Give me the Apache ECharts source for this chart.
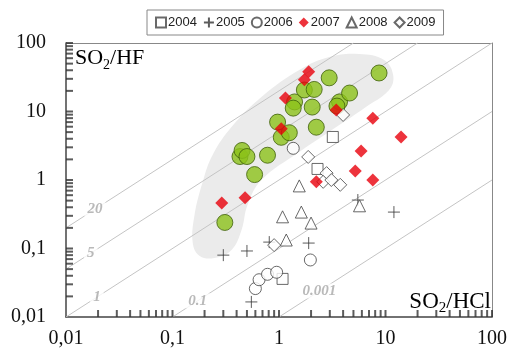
<!DOCTYPE html>
<html><head><meta charset="utf-8">
<script src="https://cdn.jsdelivr.net/npm/echarts@6/dist/echarts.min.js"></script>
<style>html,body{margin:0;padding:0;background:#fff}#c{width:510px;height:360px}</style>
</head><body><div id="c"></div>
<script>
// ---- data ----
const tickValues = [0.01, 0.1, 1, 10, 100];
const xTickLabels = ['0,01', '0,1', '1', '10', '100'];
const yTickLabels = ['0,01', '0,1', '1', '10', '100'];
const legendNames = ['2004', '2005', '2006', '2007', '2008', '2009'];

const greenPoints = [[0.31,0.24],[0.43,2.2],[0.45,2.7],[0.5,2.2],[0.59,1.2],[0.78,2.3],[0.97,7.0],[1.05,4.2],[1.25,4.9],[1.4,13.8],[1.36,11.2],[1.73,20.6],[2.14,21],[2.05,11.6],[2.24,5.9],[2.96,31],[3.7,13.8],[3.5,12],[4.6,18.6],[8.7,36.5]];
const s2004 = [[3.2,4.25],[2.3,1.45],[1.08,0.036]];
const s2005 = [[0.3,0.08],[0.5,0.092],[0.81,0.124],[0.55,0.0166],[1.9,0.12],[5.5,0.51],[12,0.34]];
const s2006 = [[1.36,2.9],[1.97,0.068],[0.6,0.026],[0.65,0.035],[0.78,0.042],[0.95,0.045]];
const s2007 = [[1.9,38],[1.73,29],[1.15,15.7],[3.45,10.5],[7.6,8.0],[1.05,5.6],[14,4.25],[5.9,2.65],[5.2,1.35],[7.6,1.0],[2.24,0.94],[0.29,0.46],[0.48,0.55]];
const s2008 = [[1.55,0.82],[5.7,0.42],[1.08,0.29],[1.62,0.34],[2.0,0.235],[1.17,0.133]];
const s2009 = [[4.0,8.9],[1.88,2.17],[2.8,1.26],[2.6,0.94],[3.1,1.0],[3.76,0.85],[0.9,0.112]];

const ratioValues = [20, 5, 1, 0.1, 0.01];
const ratioLabels = ['20', '5', '1', '0.1', '0.001'];
const ratioLabelX = [0.0187, 0.0171, 0.0195, 0.172, 2.39];

const shadedRegion = [[1.55,40.4],[2.97,62.5],[5.66,69],[9.7,56.5],[11.8,34.1],[10.8,20.6],[6.3,11.2],[3.93,6.8],[1.55,2.56],[0.684,1.0],[0.506,0.43],[0.445,0.186],[0.358,0.095],[0.248,0.0727],[0.18,0.0778],[0.155,0.12],[0.161,0.308],[0.192,0.935],[0.238,2.32],[0.358,5.94],[0.684,16.3]];

// ---- build ----
const AX_MIN = 0.01, AX_MAX = 100;
const logTicks = [];
[0.01, 0.1, 1, 10].forEach(d => { for (let m = 2; m <= 9; m++) logTicks.push(+(m * d).toPrecision(3)); });
[0.1, 1, 10, 100].forEach(v => logTicks.push(v));

function tickFmt(labels) {
  return v => labels[Math.round(Math.log10(v)) + 2];
}

const serif = '"Liberation Serif", "Times New Roman", serif';
const openStyle = { color: '#ffffff', borderColor: '#444', borderWidth: 1 };
const plusPath = 'path://M0,5L10,5M5,0L5,10';

const series = [];
series.push({
  type: 'custom', name: 'region', silent: true, z: 1,
  data: shadedRegion,
  renderItem: (params, api) => {
    if (params.dataIndex !== 0) return null;
    const pts = shadedRegion.map(p => api.coord(p));
    return { type: 'polygon', shape: { points: pts, smooth: 0.4 }, style: { fill: '#ebebeb' } };
  }
});
ratioValues.forEach((k, i) => {
  const x1 = Math.max(AX_MIN, AX_MIN / k), x2 = Math.min(AX_MAX, AX_MAX / k);
  series.push({
    type: 'line', name: 'r' + i, silent: true, z: 2, symbol: 'none',
    data: [[x1, k * x1], [x2, k * x2]],
    lineStyle: { color: '#c4c4c4', width: 1 }
  });
  series.push({
    type: 'scatter', name: 'rl' + i, silent: true, z: 3, symbolSize: 0,
    data: [[ratioLabelX[i], k * ratioLabelX[i]]],
    label: {
      show: true, position: 'inside', formatter: ratioLabels[i],
      fontFamily: serif, fontStyle: 'italic', fontWeight: 'bold', fontSize: 15,
      color: '#a8a8a8', backgroundColor: '#ffffff', padding: [0, 3]
    }
  });
});
// log tick marks placed through the axes' scales
series.push({
  type: 'scatter', name: 'xticks', silent: true, z: 8, clip: false,
  data: logTicks.map(v => [v, AX_MIN]),
  symbol: 'rect', symbolSize: [2, 7], symbolOffset: [0, -3.5],
  itemStyle: { color: '#333' }
});
series.push({
  type: 'scatter', name: 'yticks', silent: true, z: 8, clip: false,
  data: logTicks.map(v => [AX_MIN, v]),
  symbol: 'rect', symbolSize: [7, 2], symbolOffset: [3.5, 0],
  itemStyle: { color: '#333' }
});
series.push({ type: 'scatter', name: 'green', z: 4, data: greenPoints, symbol: 'circle', symbolSize: 16,
  itemStyle: { color: '#8cc21a', borderColor: '#3f5f0a', borderWidth: 1 } });
series.push({ type: 'scatter', name: '2004', z: 5, data: s2004, symbol: 'rect', symbolSize: 11, itemStyle: openStyle });
series.push({ type: 'scatter', name: '2005', z: 5, data: s2005, symbol: plusPath, symbolSize: 12,
  itemStyle: { color: 'transparent', borderColor: '#333', borderWidth: 1 } });
series.push({ type: 'scatter', name: '2006', z: 5, data: s2006, symbol: 'circle', symbolSize: 12, itemStyle: openStyle });
series.push({ type: 'scatter', name: '2007', z: 6, data: s2007, symbol: 'diamond', symbolSize: 13,
  itemStyle: { color: '#e8000b' } });
series.push({ type: 'scatter', name: '2008', z: 5, data: s2008, symbol: 'triangle', symbolSize: 12, itemStyle: openStyle });
series.push({ type: 'scatter', name: '2009', z: 5, data: s2009, symbol: 'diamond', symbolSize: 13, itemStyle: openStyle });

function logAxis(labels, margin, position) {
  return {
    type: 'log', logBase: 10, min: AX_MIN, max: AX_MAX, position: position,
    axisLine: { show: true, onZero: false, lineStyle: { color: '#444', width: 1.5 } },
    axisTick: { show: false },
    splitLine: { show: false },
    axisLabel: { formatter: tickFmt(labels), fontFamily: serif, fontSize: 20, color: '#111', margin: margin }
  };
}
function borderAxis(position) {
  return {
    type: 'log', logBase: 10, min: AX_MIN, max: AX_MAX, position: position,
    axisLine: { show: true, onZero: false, lineStyle: { color: '#888', width: 1 } },
    axisTick: { show: false }, axisLabel: { show: false }, splitLine: { show: false }
  };
}

const chart = echarts.init(document.getElementById('c'), null, { renderer: 'canvas' });
chart.setOption({
  animation: false,
  backgroundColor: '#ffffff',
  grid: { left: 66, right: 17, top: 43, bottom: 43 },
  xAxis: [logAxis(xTickLabels, 12, 'bottom'), borderAxis('top')],
  yAxis: [logAxis(yTickLabels, 20, 'left'), borderAxis('right')],
  legend: {
    data: legendNames, left: 147, top: 10, orient: 'horizontal',
    borderColor: '#888', borderWidth: 1, padding: [6, 8],
    itemWidth: 10, itemHeight: 10, itemGap: 6,
    textStyle: { fontFamily: '"Liberation Sans", Arial, sans-serif', fontSize: 13, color: '#222', padding: [0, 0, 0, -3] }
  },
  graphic: [
    { type: 'text', left: 75, top: 47, z: 10, style: {
      text: '{n|SO}{s|2}{n|/HF}', rich: {
        n: { fontFamily: serif, fontSize: 22, color: '#111', lineHeight: 28 },
        s: { fontFamily: serif, fontSize: 14, color: '#111', lineHeight: 14, verticalAlign: 'bottom' } } } },
    { type: 'text', right: 19, top: 290, z: 10, style: {
      text: '{n|SO}{s|2}{n|/HCl}', rich: {
        n: { fontFamily: serif, fontSize: 23, color: '#111', lineHeight: 28 },
        s: { fontFamily: serif, fontSize: 15, color: '#111', lineHeight: 14, verticalAlign: 'bottom' } } } }
  ],
  series: series
});
</script></body></html>
